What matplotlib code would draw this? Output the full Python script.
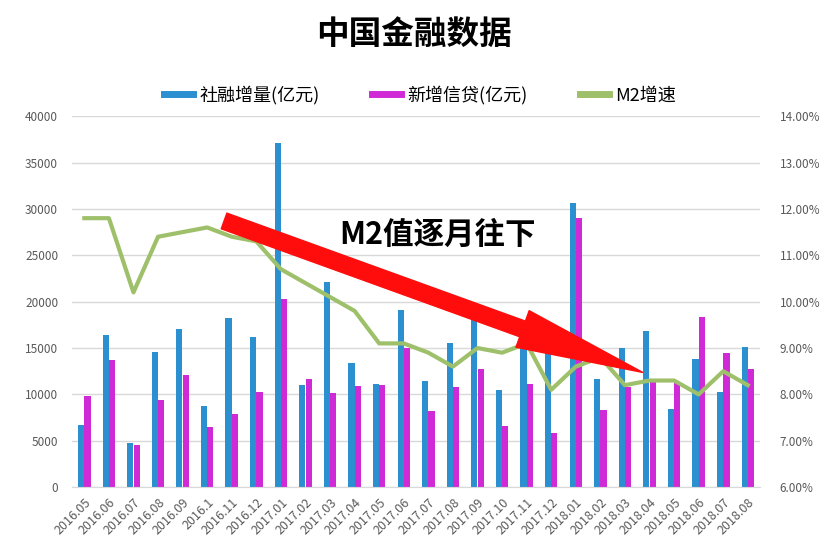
import matplotlib
matplotlib.use('Agg')
import matplotlib.pyplot as plt
from matplotlib.patches import FancyArrowPatch
from matplotlib.ticker import FuncFormatter, MultipleLocator
import numpy as np

plt.rcParams['font.family'] = ['Noto Sans CJK SC', 'DejaVu Sans']

# 月份标签
months = ['2016.05', '2016.06', '2016.07', '2016.08', '2016.09', '2016.1', '2016.11', '2016.12',
          '2017.01', '2017.02', '2017.03', '2017.04', '2017.05', '2017.06', '2017.07', '2017.08',
          '2017.09', '2017.10', '2017.11', '2017.12', '2018.01', '2018.02', '2018.03', '2018.04',
          '2018.05', '2018.06', '2018.07', '2018.08']

# 社融增量 (亿元)
shrz = [6700, 16400, 4800, 14600, 17000, 8700, 18200, 16200,
        37100, 11000, 22100, 13400, 11100, 19100, 11500, 15500,
        18100, 10500, 16000, 15000, 30600, 11700, 15000, 16800,
        8400, 13800, 10300, 15100]

# 新增信贷 (亿元)
xzxd = [9800, 13700, 4500, 9400, 12100, 6500, 7900, 10300,
        20300, 11700, 10100, 10900, 11000, 15000, 8200, 10800,
        12700, 6600, 11100, 5800, 29000, 8300, 10800, 11700,
        11200, 18300, 14500, 12700]

# M2增速 (%)
m2 = [11.8, 11.8, 10.2, 11.4, 11.5, 11.6, 11.4, 11.3,
      10.7, 10.4, 10.1, 9.8, 9.1, 9.1, 8.9, 8.6,
      9.0, 8.9, 9.1, 8.1, 8.6, 8.8, 8.2, 8.3,
      8.3, 8.0, 8.5, 8.2]

blue = '#2b8fd0'
magenta = '#d02ad6'
green = '#9fc06a'
grey_txt = '#595959'

fig = plt.figure(figsize=(8.28, 5.53), dpi=100)
ax = fig.add_axes([0.087, 0.119, 0.831, 0.671])
ax2 = ax.twinx()

x = np.arange(len(months))
w = 0.25
ax.bar(x - 0.13, shrz, width=w, color=blue, label='社融增量(亿元)', zorder=2)
ax.bar(x + 0.13, xzxd, width=w, color=magenta, label='新增信贷(亿元)', zorder=2)
ax2.plot(x, m2, color=green, linewidth=3, label='M2增速', zorder=3)

ax.set_xlim(-0.5, len(months) - 0.5)
ax.set_ylim(0, 40000)
ax.yaxis.set_major_locator(MultipleLocator(5000))
ax2.set_ylim(6, 14)
ax2.yaxis.set_major_locator(MultipleLocator(1))
ax2.yaxis.set_major_formatter(FuncFormatter(lambda v, p: f'{v:.2f}%'))

ax.grid(axis='y', color='#d9d9d9', linewidth=1, zorder=0)
ax.set_axisbelow(True)
for a in (ax, ax2):
    for s in a.spines.values():
        s.set_visible(False)
    a.tick_params(length=0, colors=grey_txt, labelsize=8.5)
ax.spines['bottom'].set_visible(True)
ax.spines['bottom'].set_color('#d9d9d9')

ax.set_xticks(x)
ax.set_xticklabels(months, rotation=45, ha='right', rotation_mode='anchor')
ax.tick_params(axis='x', pad=6, labelsize=9)
ax.tick_params(axis='y', pad=10)
ax2.tick_params(axis='y', pad=14)

# 图例
h1, l1 = ax.get_legend_handles_labels()
h2, l2 = ax2.get_legend_handles_labels()
handles = [plt.Line2D([], [], color=blue, linewidth=5),
           plt.Line2D([], [], color=magenta, linewidth=5),
           plt.Line2D([], [], color=green, linewidth=5)]
fig.legend(handles, l1 + l2, loc='center', bbox_to_anchor=(0.507, 0.828), ncol=3,
           frameon=False, fontsize=13, handlelength=1.6, handletextpad=0.35,
           columnspacing=2.9)

fig.suptitle('中国金融数据', x=0.5, y=0.968, fontsize=23.5, fontweight='bold')

# 红色箭头
ax2.set_zorder(ax.get_zorder() + 1)
ax2.patch.set_visible(False)
arrow = FancyArrowPatch((5.58, 28800), (22.83, 12270), transform=ax.transData,
                        arrowstyle='simple,head_length=92,head_width=28,tail_width=12',
                        mutation_scale=1, color='#ff0d0d', zorder=10)
ax2.add_artist(arrow)
arrow.set_transform(ax.transData)

ax2.text(0.388, 0.68, 'M2值逐月往下', transform=ax.transAxes, fontsize=22,
         fontweight='bold', color='black', ha='left', va='center', zorder=11)

fig.savefig('out.png', dpi=100, facecolor='white')
